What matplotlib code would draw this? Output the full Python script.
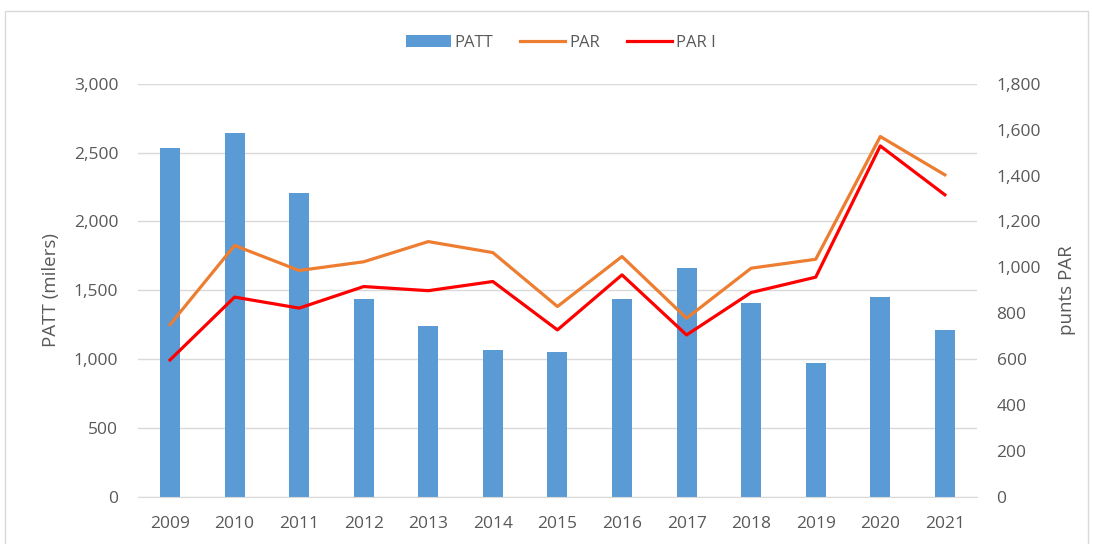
import numpy as np
import matplotlib
matplotlib.use("Agg")
import matplotlib.pyplot as plt
from matplotlib.ticker import FuncFormatter
from matplotlib.patches import Rectangle

# Dades
anys = ["2009", "2010", "2011", "2012", "2013", "2014", "2015",
        "2016", "2017", "2018", "2019", "2020", "2021"]
patt = [2530, 2640, 2210, 1435, 1240, 1065, 1050, 1435, 1660, 1405, 970, 1450, 1210]
par = [750, 1095, 986, 1024, 1112, 1064, 829, 1047, 778, 996, 1035, 1570, 1403]
par_i = [596, 870, 822, 916, 898, 938, 727, 967, 705, 890, 957, 1529, 1316]

plt.rcParams['font.family'] = ['Open Sans', 'DejaVu Sans']
gris_text = "#595959"

fig = plt.figure(figsize=(10.93, 5.44), dpi=100)
ax = fig.add_axes([0.126, 0.087, 0.768, 0.759])
ax2 = ax.twinx()

x = np.arange(len(anys))
barres = ax.bar(x, patt, width=0.31, color="#5B9BD5", label="PATT", zorder=2)
l1, = ax2.plot(x, par, color="#ED7D31", linewidth=2.3, label="PAR", zorder=3)
l2, = ax2.plot(x, par_i, color="#FF0000", linewidth=2.3, label="PAR I", zorder=4)

ax.set_xlim(-0.5, len(anys) - 0.5)
ax.set_ylim(0, 3000)
ax.set_yticks(np.arange(0, 3001, 500))
ax2.set_ylim(0, 1800)
ax2.set_yticks(np.arange(0, 1801, 200))

fmt = FuncFormatter(lambda v, p: f"{v:,.0f}")
ax.yaxis.set_major_formatter(fmt)
ax2.yaxis.set_major_formatter(fmt)

ax.set_xticks(x)
ax.set_xticklabels(anys)

# Quadrícula horitzontal
ax.grid(axis="y", color="#D9D9D9", linewidth=1, zorder=0)
ax.set_axisbelow(True)

for a in (ax, ax2):
    for s in a.spines.values():
        s.set_visible(False)
    a.tick_params(length=0, colors=gris_text, labelsize=12.5)
ax.spines["bottom"].set_visible(True)
ax.spines["bottom"].set_color("#D9D9D9")
ax.tick_params(axis="y", pad=14)
ax.tick_params(axis="x", pad=14)
ax2.tick_params(axis="y", pad=14)

ax.set_ylabel("PATT (milers)", fontsize=13.5, color=gris_text, labelpad=10)
ax2.set_ylabel("punts PAR", fontsize=13.5, color=gris_text, labelpad=12)

fig.legend(handles=[barres, l1, l2], labels=["PATT", "PAR", "PAR I"],
           loc="center", bbox_to_anchor=(0.513, 0.921), ncol=3, frameon=False,
           fontsize=12, labelcolor=gris_text, handlelength=2.7,
           columnspacing=1.6, handletextpad=0.25)

# Marc del gràfic
fig.patches.append(Rectangle((0.005, -0.01), 0.99, 0.99, transform=fig.transFigure,
                             fill=False, edgecolor="#D9D9D9", linewidth=1))

fig.savefig("out.png", dpi=100)
